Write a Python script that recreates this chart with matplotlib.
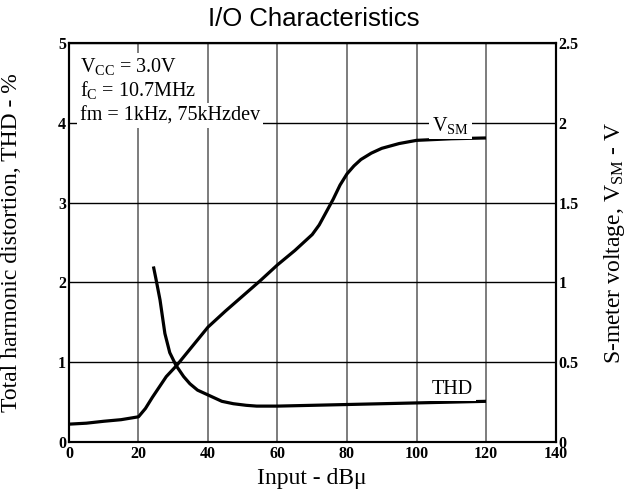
import matplotlib
matplotlib.use("Agg")
import matplotlib.pyplot as plt

plt.rcParams['font.family'] = ['Liberation Serif', 'DejaVu Serif']
plt.rcParams['mathtext.fontset'] = 'custom'
plt.rcParams['mathtext.rm'] = 'Liberation Serif'
plt.rcParams['mathtext.it'] = 'Liberation Serif'

# S-meter voltage (V) vs input (dBu)
vsm_x = [0, 5, 10, 15, 20, 22, 24, 26, 28, 31, 34, 37, 40, 45, 50, 55, 60,
         65, 70, 72, 74, 76, 78, 80, 82, 84, 87, 90, 95, 100, 110, 120]
vsm_y = [0.112, 0.118, 0.13, 0.14, 0.158, 0.21, 0.28, 0.345, 0.41, 0.48, 0.56, 0.64,
         0.72, 0.82, 0.915, 1.01, 1.11, 1.20, 1.30, 1.36, 1.44, 1.52, 1.61, 1.68,
         1.73, 1.77, 1.81, 1.84, 1.87, 1.89, 1.90, 1.905]

# THD (%) vs input (dBu)
thd_x = [24.3, 25, 26.2, 27.6, 29, 30.8, 33, 34.8, 37, 40, 44, 47.3, 51, 54,
         60, 70, 80, 90, 100, 110, 120]
thd_y = [2.2, 2.05, 1.78, 1.36, 1.12, 0.96, 0.82, 0.73, 0.65, 0.59, 0.51, 0.48,
         0.46, 0.45, 0.45, 0.46, 0.47, 0.48, 0.49, 0.50, 0.51]

x_ticks = [0, 20, 40, 60, 80, 100, 120, 140]
thd_ticks = [0, 1, 2, 3, 4, 5]
vsm_ticks = [0, 0.5, 1, 1.5, 2, 2.5]
vsm_tick_labels = ['0', '0.5', '1', '1.5', '2', '2.5']

fig = plt.figure(figsize=(6.27, 4.93), dpi=100)
ax = fig.add_axes([0.110, 0.1034, 0.776, 0.8094])
ax2 = ax.twinx()

ax.set_xlim(0, 140)
ax.set_ylim(0, 5)
ax2.set_ylim(0, 2.5)
ax.set_xticks(x_ticks)
ax.set_yticks(thd_ticks)
ax2.set_yticks(vsm_ticks)
ax2.set_yticklabels(vsm_tick_labels)

for a in (ax, ax2):
    for s in a.spines.values():
        s.set_linewidth(1.5)
    a.tick_params(length=0, labelsize=11.5)
    for lab in a.get_xticklabels() + a.get_yticklabels():
        lab.set_fontweight('bold')
ax.tick_params(axis='y', pad=2)
ax.tick_params(axis='x', pad=3)
ax2.tick_params(axis='y', pad=2)

ax.xaxis.grid(True, color='#666666', linewidth=1.2)
ax.yaxis.grid(True, color='black', linewidth=1.0)
ax.set_axisbelow(True)

ax.plot(thd_x, thd_y, color='black', linewidth=2.3, solid_capstyle='butt')
ax2.plot(vsm_x, vsm_y, color='black', linewidth=2.3, solid_capstyle='butt')

ax.set_xlabel('Input - dB\u03bc', fontsize=17, labelpad=4)
ax.set_ylabel('Total harmonic distortion, THD - %', fontsize=17)
ax2.set_ylabel(r'S-meter voltage, V$_{\mathrm{SM}}$ - V', fontsize=17)
ax.yaxis.set_label_coords(-0.0965, 0.5)
ax2.yaxis.set_label_coords(1.096, 0.5)

fig.suptitle('I/O Characteristics', fontsize=18.5, family='Liberation Sans', y=0.985)

box = dict(facecolor='white', edgecolor='none', pad=2)
ax2.text(3.2, 2.32, r'V$_{\mathrm{CC}}$ = 3.0V', fontsize=14.5, va='baseline', bbox=box, zorder=5)
ax2.text(3.2, 2.17, r'f$_{\mathrm{C}}$ = 10.7MHz', fontsize=14.5, va='baseline', bbox=box, zorder=5)
ax2.text(3.2, 2.017, 'fm = 1kHz, 75kHzdev', fontsize=14.5, va='baseline', bbox=box, zorder=5)
ax2.text(104.5, 1.95, r'V$_{\mathrm{SM}}$', fontsize=14.5, va='baseline', bbox=box, zorder=5)
ax2.text(104.5, 0.304, 'THD', fontsize=14.5, va='baseline', bbox=box, zorder=5)

fig.savefig('out.png', dpi=100)
